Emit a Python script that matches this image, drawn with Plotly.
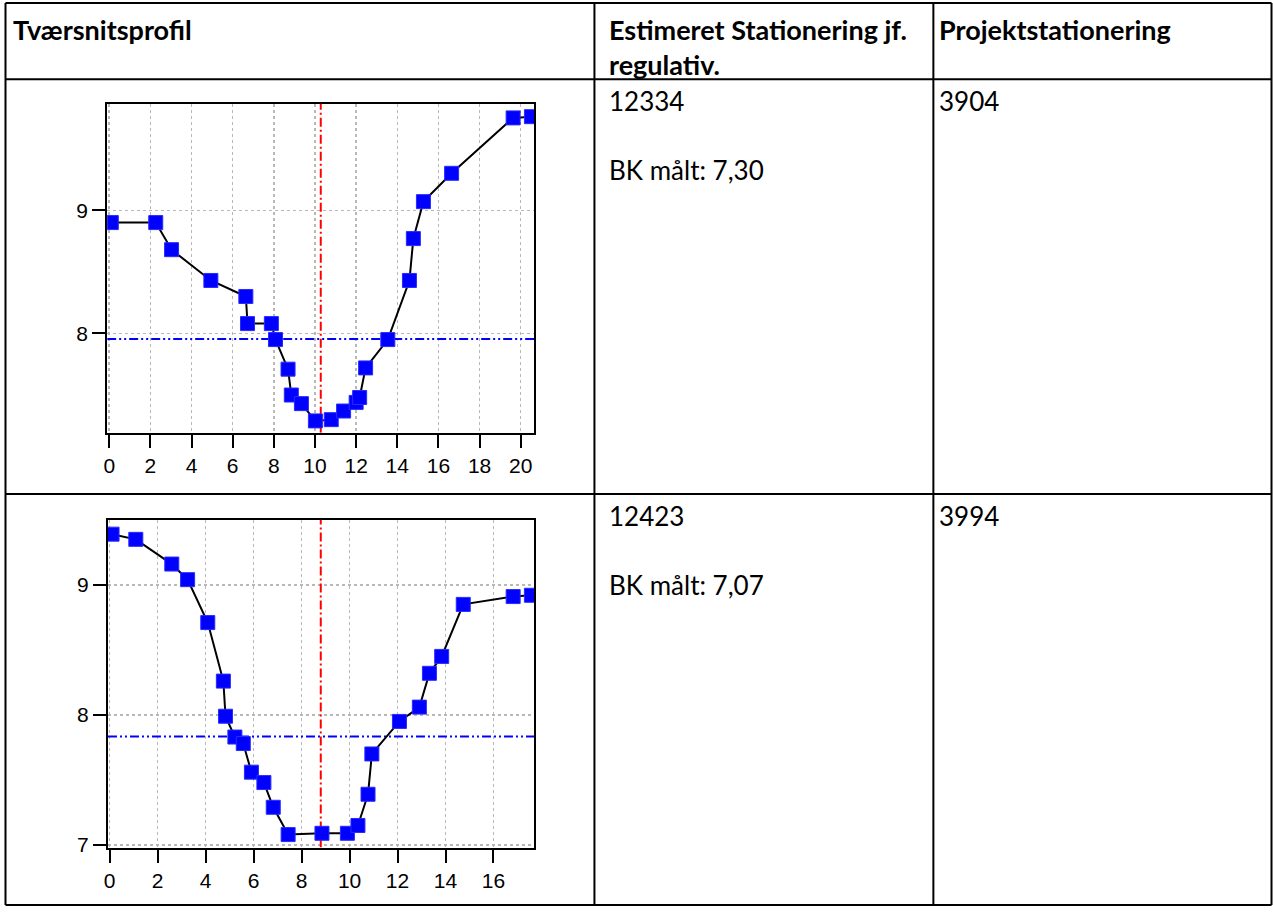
import plotly.graph_objects as go

# ---------------- data ----------------
# Profile 1 (station 12334)
p1_x = [0.10, 2.26, 3.03, 4.94, 6.64, 6.72, 7.88, 8.08, 8.69, 8.85, 9.34, 10.02,
        10.79, 11.39, 12.00, 12.17, 12.46, 13.54, 14.59, 14.78, 15.27, 16.64, 19.63, 20.52]
p1_y = [8.90, 8.90, 8.68, 8.43, 8.30, 8.08, 8.08, 7.95, 7.71, 7.50, 7.43, 7.29,
        7.30, 7.37, 7.44, 7.48, 7.72, 7.95, 8.43, 8.77, 9.07, 9.30, 9.75, 9.76]
p1_level = 7.955      # blue dash-dot line
p1_center = 10.28     # red dash-dot line
p1_xrange = [-0.10, 20.66]
p1_yrange = [7.194, 9.863]

# Profile 2 (station 12423)
p2_x = [0.10, 1.09, 2.59, 3.25, 4.09, 4.74, 4.83, 5.22, 5.57, 5.91, 6.43, 6.82, 7.44,
        8.85, 9.91, 10.35, 10.77, 10.93, 12.08, 12.91, 13.33, 13.84, 14.74, 16.82, 17.58]
p2_y = [9.39, 9.35, 9.16, 9.04, 8.71, 8.26, 7.99, 7.83, 7.78, 7.56, 7.48, 7.29, 7.08,
        7.09, 7.09, 7.15, 7.39, 7.70, 7.95, 8.06, 8.32, 8.45, 8.85, 8.91, 8.92]
p2_level = 7.835
p2_center = 8.80
p2_xrange = [-0.07, 17.69]
p2_yrange = [6.98, 9.50]

headers = ["Tværsnitsprofil", "Estimeret Stationering jf.<br>regulativ.", "Projektstationering"]
estimated = ["12334", "12423"]
bk_measured = ["BK målt: 7,30", "BK målt: 7,07"]
project = ["3904", "3994"]

# ---------------- layout helpers ----------------
W, H = 1273, 916
def px(x):
    return x / W
def py(y):
    return 1 - y / H

fig = go.Figure()

def add_profile(xs, ys, level, center, xr, yr, xa, ya):
    # reference lines (drawn first, under the profile)
    fig.add_trace(go.Scatter(x=[center, center], y=yr, mode="lines",
                             line=dict(color="#ff0000", width=2, dash="9px,3px,2px,3px"),
                             xaxis=xa, yaxis=ya, hoverinfo="skip"))
    fig.add_trace(go.Scatter(x=xr, y=[level, level], mode="lines",
                             line=dict(color="#0000ff", width=2, dash="9px,3px,2px,3px,2px,3px"),
                             xaxis=xa, yaxis=ya, hoverinfo="skip"))
    fig.add_trace(go.Scatter(x=xs, y=ys, mode="lines+markers",
                             line=dict(color="black", width=2),
                             marker=dict(symbol="square", size=14, color="#0000ff",
                                         line=dict(color="#2a2aff", width=1)),
                             xaxis=xa, yaxis=ya, hoverinfo="skip"))

add_profile(p1_x, p1_y, p1_level, p1_center, p1_xrange, p1_yrange, "x", "y")
add_profile(p2_x, p2_y, p2_level, p2_center, p2_xrange, p2_yrange, "x2", "y2")

axis_common = dict(showline=True, mirror=True, linecolor="black", linewidth=2,
                   ticks="outside", ticklen=13, tickwidth=2, tickcolor="black",
                   showgrid=True, gridcolor="#b8b8b8", griddash="dot", gridwidth=1.5,
                   zeroline=False, fixedrange=True,
                   tickfont=dict(family="Liberation Sans, Arial", size=21, color="black"))

fig.update_layout(
    width=W, height=H, margin=dict(l=0, r=0, t=0, b=0),
    paper_bgcolor="white", plot_bgcolor="white", showlegend=False, hovermode=False,
    xaxis=dict(domain=[px(103.5), px(532)], range=p1_xrange, dtick=2, tick0=0,
               anchor="y", **axis_common),
    yaxis=dict(domain=[py(437), py(105)], range=p1_yrange, dtick=1, tick0=0,
               anchor="x", **axis_common),
    xaxis2=dict(domain=[px(104.3), px(531.7)], range=p2_xrange, dtick=2, tick0=0,
                anchor="y2", **axis_common),
    yaxis2=dict(domain=[py(856), py(525)], range=p2_yrange, dtick=1, tick0=0,
                anchor="x2", **axis_common),
)

# ---------------- table grid ----------------
left, right, top, bottom = 1.5, 1271.5, 3, 914
col_x = [592.3, 932.3]
row_y = [80, 499]
lw = 2
lines = []
for x in [left, right] + col_x:
    lines.append(dict(type="line", xref="paper", yref="paper", x0=px(x), x1=px(x),
                      y0=py(top), y1=py(bottom), line=dict(color="black", width=lw)))
for y in [top, bottom] + row_y:
    lines.append(dict(type="line", xref="paper", yref="paper", x0=px(left), x1=px(right),
                      y0=py(y), y1=py(y), line=dict(color="black", width=lw)))
fig.update_layout(shapes=lines)

# ---------------- table text ----------------
txt_font = dict(family="Lato, Carlito, Calibri, sans-serif", size=26, color="black")
bold_font = dict(family="Lato, Carlito, Calibri, sans-serif", size=27, color="black",
                 weight="bold")
ann = []
def add_text(x, y, text, font, yanchor="top"):
    ann.append(dict(xref="paper", yref="paper", x=px(x), y=py(y), text=text,
                    showarrow=False, xanchor="left", yanchor=yanchor, align="left",
                    font=font))

header_x = [7, 605, 936]
for hx, htxt in zip(header_x, headers):
    add_text(hx, 11, htxt, bold_font)

row_tops = [84, 503]
for i in range(2):
    add_text(605, row_tops[i], estimated[i], txt_font)
    add_text(605, row_tops[i] + 70, bk_measured[i], txt_font)
    add_text(936, row_tops[i], project[i], txt_font)
fig.update_layout(annotations=ann)

fig.write_html("out.html", config={"displayModeBar": False, "staticPlot": True},
               post_script="document.body.style.margin='0px';document.body.style.overflow='hidden';")
